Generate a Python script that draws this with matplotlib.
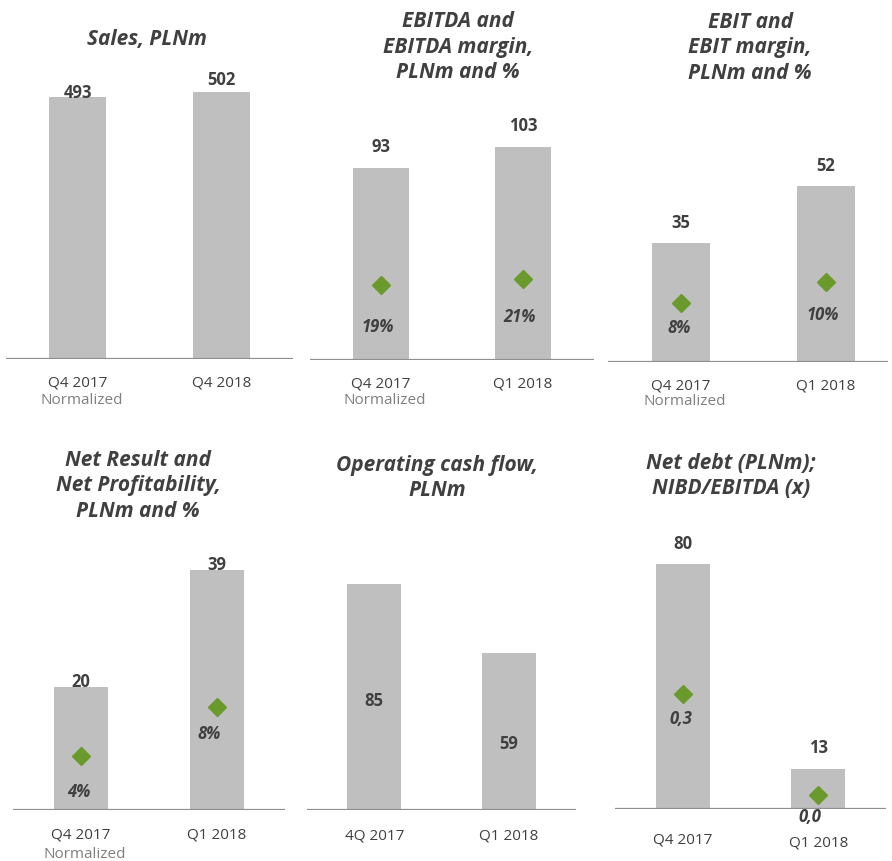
import matplotlib
matplotlib.use("Agg")
import matplotlib.pyplot as plt

# ---------------- data ----------------
sales_cats = ["Q4 2017", "Q4 2018"]
sales_vals = [493, 502]

ebitda_cats = ["Q4 2017", "Q1 2018"]
ebitda_vals = [93, 103]
ebitda_margin = [18.9, 20.5]
ebitda_margin_lbl = ["19%", "21%"]

ebit_cats = ["Q4 2017", "Q1 2018"]
ebit_vals = [35, 52]
ebit_margin = [7.5, 10.2]
ebit_margin_lbl = ["8%", "10%"]

net_cats = ["Q4 2017", "Q1 2018"]
net_vals = [20, 39]
net_margin = [4.1, 7.9]
net_margin_lbl = ["4%", "8%"]

ocf_cats = ["4Q 2017", "Q1 2018"]
ocf_vals = [85, 59]

debt_cats = ["Q4 2017", "Q1 2018"]
debt_vals = [80, 13]
debt_ratio = [0.29, 0.035]
debt_ratio_lbl = ["0,3", "0,0"]

titles = ["Sales, PLNm",
          "EBITDA and\nEBITDA margin,\nPLNm and %",
          "EBIT and\nEBIT margin,\nPLNm and %",
          "Net Result and\nNet Profitability,\nPLNm and %",
          "Operating cash flow,\nPLNm",
          "Net debt (PLNm);\nNIBD/EBITDA (x)"]

# ---------------- style ----------------
W, H = 892, 862
FONT = "Open Sans"
BAR = "#BFBFBF"
AXC = "#8F8F8F"
TXT = "#404040"
GRN = "#6A9A2C"
plt.rcParams["font.family"] = [FONT, "DejaVu Sans"]

fig = plt.figure(figsize=(W / 100, H / 100), dpi=100)


def px_axes(x0, x1, ybase, ytop):
    return fig.add_axes([x0 / W, 1 - ybase / H, (x1 - x0) / W, (ybase - ytop) / H])


def base_axes(rect, cats, vals, ymax, xlim=(-0.5, 1.5), tick_dy=(25, 25), norm_dy=None):
    ax = px_axes(*rect)
    ax.bar(range(len(vals)), vals, width=0.4, color=BAR, zorder=2)
    ax.set_xlim(*xlim)
    ax.set_ylim(0, ymax)
    for s in ["top", "right", "left", "bottom"]:
        ax.spines[s].set_visible(False)
    ax.axhline(0, color=AXC, linewidth=1.6, zorder=3)
    ax.set_yticks([])
    ax.set_xticks([])
    for i, (c, dy) in enumerate(zip(cats, tick_dy)):
        ax.annotate(c, xy=(i, 0), xycoords=("data", "axes fraction"),
                    xytext=(0, -dy * 0.72), textcoords="offset points",
                    ha="center", va="center", fontsize=11, color=TXT)
    if norm_dy is not None:
        ax.annotate("Normalized", xy=(0, 0), xycoords=("data", "axes fraction"),
                    xytext=(3, -norm_dy * 0.72), textcoords="offset points",
                    ha="center", va="center", fontsize=11, color="#7F7F7F")
    ax.patch.set_alpha(0)
    return ax


def value_labels(ax, vals, offs):
    for i, (v, o) in enumerate(zip(vals, offs)):
        ax.annotate(f"{v}", xy=(i, v), xytext=(0, o * 0.72), textcoords="offset points",
                    ha="center", va="center", fontsize=12, fontweight="bold", color=TXT)


def margin_marks(ax, vals, labels, ymax2, offs, dxs=(0, 0)):
    ax2 = ax.twinx()
    ax2.set_ylim(0, ymax2)
    ax2.axis("off")
    ax2.plot(range(len(vals)), vals, linestyle="none", marker="D", markersize=9,
             color=GRN, zorder=3)
    for i, (v, lab, o, dx) in enumerate(zip(vals, labels, offs, dxs)):
        ax2.annotate(lab, xy=(i, v), xytext=(dx * 0.72, -o * 0.72), textcoords="offset points",
                     ha="center", va="center", fontsize=12, fontweight="bold",
                     fontstyle="italic", color=TXT)
    return ax2


def title(x, y, s):
    fig.text(x / W, 1 - y / H, s, ha="center", va="center", fontsize=15,
             fontweight="bold", fontstyle="italic", color=TXT, linespacing=1.28)


# Panel 1: Sales
ax1 = base_axes((6, 293, 360, 60), sales_cats, sales_vals, 564, tick_dy=(23, 23), norm_dy=40)
value_labels(ax1, sales_vals, [5, 13])
title(147, 40, titles[0])

# Panel 2: EBITDA
ax2 = base_axes((310, 594, 361, 100), ebitda_cats, ebitda_vals, 126.4, tick_dy=(23, 23), norm_dy=40)
value_labels(ax2, ebitda_vals, [22, 22])
margin_marks(ax2, ebitda_margin, ebitda_margin_lbl, 66.1, [41, 37], (-3, -3))
title(458, 47, titles[1])

# Panel 3: EBIT
ax3 = base_axes((608, 888, 363, 100), ebit_cats, ebit_vals, 77.6, xlim=(-0.5, 1.43),
                tick_dy=(23, 23), norm_dy=39)
value_labels(ax3, ebit_vals, [21, 21])
margin_marks(ax3, ebit_margin, ebit_margin_lbl, 33.5, [24, 32], (-1, -3))
title(750, 48, titles[2])

# Panel 4: Net result
ax4 = base_axes((13, 285, 811, 540), net_cats, net_vals, 44.1, tick_dy=(24, 24), norm_dy=44)
value_labels(ax4, net_vals, [6, 6])
margin_marks(ax4, net_margin, net_margin_lbl, 20.7, [35, 26], (-2, -8))
title(138, 486, titles[3])

# Panel 5: Operating cash flow
ax5 = base_axes((307, 576, 811, 540), ocf_cats, ocf_vals, 101.7, tick_dy=(25, 25))
for i, (v, o) in enumerate(zip(ocf_vals, [-3, -12])):
    ax5.annotate(f"{v}", xy=(i, v / 2), xytext=(0, o * 0.72), textcoords="offset points",
                 ha="center", va="center", fontsize=12, fontweight="bold", color=TXT)
title(437, 478, titles[4])

# Panel 6: Net debt
ax6 = base_axes((615, 886, 810, 540), debt_cats, debt_vals, 88.2, tick_dy=(30, 33))
value_labels(ax6, debt_vals, [21, 22])
margin_marks(ax6, debt_ratio, debt_ratio_lbl, 0.68, [24, 21], (-2, -8))
title(731, 476, titles[5])

fig.savefig("out.png", dpi=100)
